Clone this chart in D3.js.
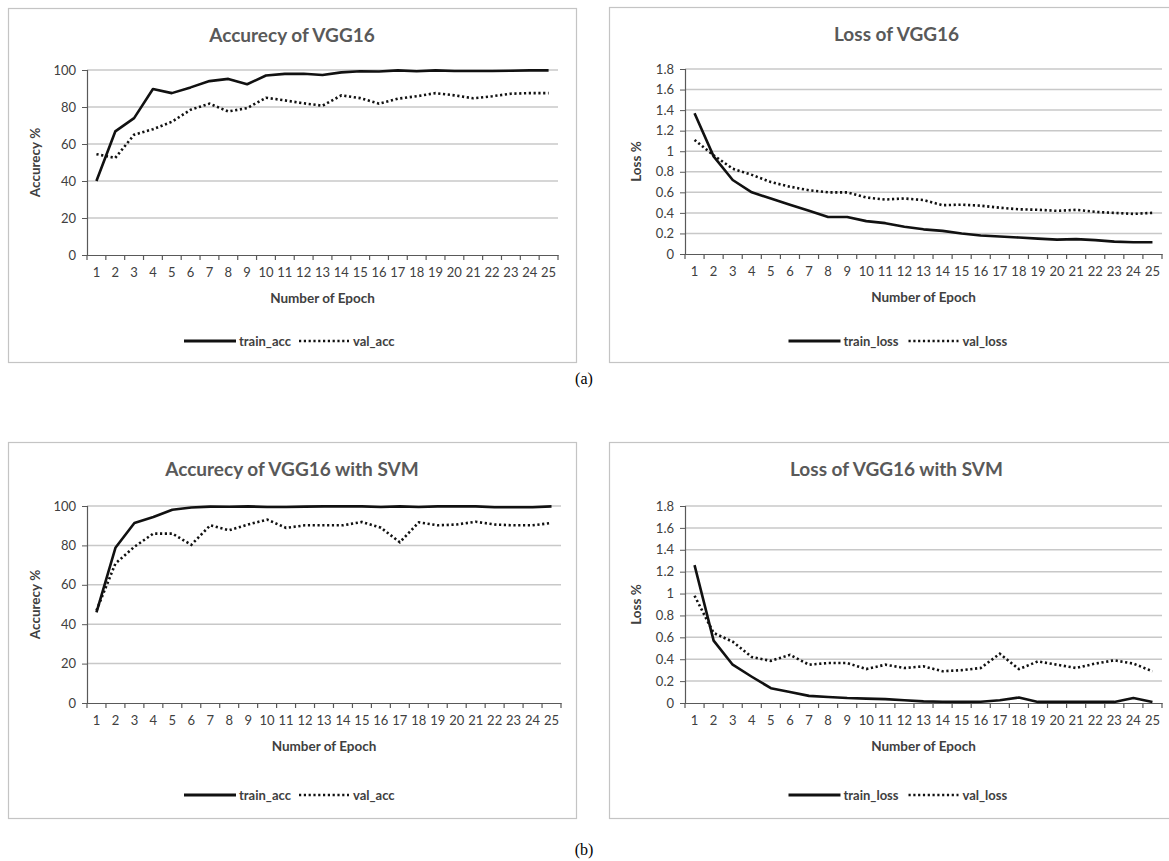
<!DOCTYPE html>
<html>
<head>
<meta charset="utf-8">
<script src="https://cdn.jsdelivr.net/npm/d3@7"></script>
<style>
  body { margin: 0; background: #fff; }
  svg { display: block; }
</style>
</head>
<body>
<svg id="chart" width="1169" height="861"></svg>
<script>
// epochs on the x axis
const epochs = d3.range(1, 26);

// VGG16 accuracy (%)
const vggTrainAcc = [40, 66.8, 74, 89.7, 87.5, 90.6, 94, 95.2, 92.3, 97, 97.9, 98, 97.3, 98.7, 99.3, 99.2, 99.8, 99.3, 99.8, 99.5, 99.5, 99.5, 99.6, 99.8, 99.8];
const vggValAcc = [54.5, 52.5, 65, 68, 72, 78.5, 81.8, 77.6, 79.4, 85, 83.6, 82, 80.7, 86.3, 84.8, 81.8, 84.5, 85.8, 87.5, 86.3, 84.7, 85.8, 87.2, 87.5, 87.5];

// VGG16 loss
const vggTrainLoss = [1.37, 0.95, 0.72, 0.6, 0.54, 0.48, 0.42, 0.36, 0.36, 0.32, 0.3, 0.265, 0.24, 0.225, 0.2, 0.18, 0.17, 0.16, 0.15, 0.14, 0.145, 0.135, 0.12, 0.115, 0.115];
const vggValLoss = [1.11, 0.96, 0.83, 0.77, 0.7, 0.655, 0.62, 0.6, 0.6, 0.55, 0.53, 0.54, 0.525, 0.475, 0.48, 0.47, 0.45, 0.435, 0.43, 0.42, 0.43, 0.41, 0.4, 0.39, 0.4];

// VGG16 + SVM accuracy (%)
const svmTrainAcc = [46, 78.8, 91.4, 94.4, 98.1, 99.2, 99.7, 99.6, 99.8, 99.5, 99.5, 99.7, 99.8, 99.8, 99.8, 99.5, 99.8, 99.5, 99.8, 99.8, 99.8, 99.4, 99.4, 99.4, 99.8];
const svmValAcc = [47, 70.8, 79.3, 86, 86, 80.3, 90.2, 87.7, 90.6, 93.1, 88.9, 90.2, 90.2, 90.2, 91.9, 89, 81.6, 91.7, 90.2, 90.6, 92, 90.6, 90.2, 90.2, 91.4];

// VGG16 + SVM loss
const svmTrainLoss = [1.26, 0.57, 0.35, 0.24, 0.135, 0.1, 0.065, 0.055, 0.045, 0.04, 0.035, 0.025, 0.015, 0.012, 0.01, 0.012, 0.025, 0.05, 0.01, 0.01, 0.01, 0.01, 0.01, 0.045, 0.01];
const svmValLoss = [0.98, 0.64, 0.56, 0.42, 0.385, 0.44, 0.35, 0.365, 0.365, 0.31, 0.35, 0.32, 0.335, 0.29, 0.3, 0.32, 0.45, 0.31, 0.38, 0.35, 0.32, 0.36, 0.39, 0.36, 0.29];

// y tick labels
const accTicks = [0, 20, 40, 60, 80, 100];
const lossTicks = [0, 0.2, 0.4, 0.6, 0.8, 1, 1.2, 1.4, 1.6, 1.8];

const FONT = "Lato, 'Open Sans', sans-serif";
const svg = d3.select('#chart');

function drawPanel(p) {
  const g = svg.append('g');

  // panel frame
  g.append('rect')
    .attr('x', p.box[0] + 0.5).attr('y', p.box[1] + 0.5)
    .attr('width', p.box[2]).attr('height', p.box[3])
    .attr('fill', '#fff').attr('stroke', '#c4c4c4').attr('stroke-width', 1.2);

  const x = d3.scaleBand().domain(epochs).range([p.left, p.right]);
  const y = d3.scaleLinear().domain([0, d3.max(p.yTicks)]).range([p.bottom, p.top]);

  // gridlines
  g.append('g').selectAll('line').data(p.yTicks.filter(d => d > 0)).enter()
    .append('line')
    .attr('x1', p.left).attr('x2', p.right)
    .attr('y1', d => y(d)).attr('y2', d => y(d))
    .attr('stroke', '#c8c8c8').attr('stroke-width', 1.5);

  // y axis
  const yAxis = g.append('g')
    .attr('transform', `translate(${p.left},0)`)
    .call(d3.axisLeft(y).tickValues(p.yTicks).tickSize(5).tickPadding(6).tickFormat(d3.format('~g')));
  yAxis.select('.domain').attr('stroke', '#595959').attr('stroke-width', 1.2);
  yAxis.selectAll('.tick line').attr('stroke', '#595959');
  yAxis.selectAll('text').attr('font-family', FONT).attr('font-size', 13).attr('fill', '#404040');

  // x axis with labels centered in bands, ticks at band boundaries
  const xAxis = g.append('g')
    .attr('transform', `translate(0,${p.bottom})`)
    .call(d3.axisBottom(x).tickSize(0).tickPadding(13));
  xAxis.select('.domain').attr('stroke', '#595959').attr('stroke-width', 1.2);
  xAxis.selectAll('text').attr('font-family', FONT).attr('font-size', 13).attr('fill', '#404040');
  const bounds = epochs.map(d => x(d)).concat([p.right]);
  xAxis.selectAll('line.bnd').data(bounds).enter()
    .append('line').attr('class', 'bnd')
    .attr('x1', d => d).attr('x2', d => d)
    .attr('y1', 0).attr('y2', 5)
    .attr('stroke', '#595959').attr('stroke-width', 1.2);

  // series
  const line = d3.line()
    .x((d, i) => x(epochs[i]) + x.bandwidth() / 2)
    .y(d => y(d));
  g.append('path').datum(p.val)
    .attr('d', line).attr('fill', 'none')
    .attr('stroke', '#111').attr('stroke-width', 2.6)
    .attr('stroke-dasharray', '2.2,2.6');
  g.append('path').datum(p.train)
    .attr('d', line).attr('fill', 'none')
    .attr('stroke', '#111').attr('stroke-width', 2.6)
    .attr('stroke-linejoin', 'round');

  // titles
  const cx = p.box[0] + p.box[2] / 2;
  g.append('text')
    .attr('x', cx).attr('y', p.box[1] + 34)
    .attr('text-anchor', 'middle')
    .attr('font-family', FONT).attr('font-size', 19).attr('font-weight', 'bold')
    .attr('fill', '#595959').text(p.title);

  g.append('text')
    .attr('x', (p.left + p.right) / 2).attr('y', p.bottom + 48)
    .attr('text-anchor', 'middle')
    .attr('font-family', FONT).attr('font-size', 13.5).attr('font-weight', 'bold')
    .attr('fill', '#404040').text('Number of Epoch');

  g.append('text')
    .attr('transform', `translate(${p.box[0] + 32},${(p.top + p.bottom) / 2}) rotate(-90)`)
    .attr('text-anchor', 'middle')
    .attr('font-family', FONT).attr('font-size', 13.5).attr('font-weight', 'bold')
    .attr('fill', '#404040').text(p.yLabel);

  // legend
  const ly = p.legendY;
  const lg = g.append('g').attr('transform', `translate(${cx - 108},${ly})`);
  lg.append('line').attr('x1', 0).attr('x2', 52).attr('y1', 0).attr('y2', 0)
    .attr('stroke', '#111').attr('stroke-width', 3);
  lg.append('text').attr('x', 55).attr('y', 4.5)
    .attr('font-family', FONT).attr('font-size', 13).attr('font-weight', 'bold')
    .attr('fill', '#404040').text(p.names[0]);
  lg.append('line').attr('x1', p.gap).attr('x2', p.gap + 50).attr('y1', 0).attr('y2', 0)
    .attr('stroke', '#111').attr('stroke-width', 2.6).attr('stroke-dasharray', '2.2,2.6');
  lg.append('text').attr('x', p.gap + 54).attr('y', 4.5)
    .attr('font-family', FONT).attr('font-size', 13).attr('font-weight', 'bold')
    .attr('fill', '#404040').text(p.names[1]);
}

drawPanel({
  box: [8, 8, 568, 354], left: 87, right: 558, top: 70, bottom: 255, legendY: 341,
  title: 'Accurecy of VGG16', yLabel: 'Accurecy %', yTicks: accTicks,
  train: vggTrainAcc, val: vggValAcc, names: ['train_acc', 'val_acc'], gap: 115
});
drawPanel({
  box: [609, 7, 575, 355], left: 685, right: 1162, top: 69, bottom: 254, legendY: 341,
  title: 'Loss of VGG16', yLabel: 'Loss %', yTicks: lossTicks,
  train: vggTrainLoss, val: vggValLoss, names: ['train_loss', 'val_loss'], gap: 120
});
drawPanel({
  box: [8, 442, 568, 376], left: 87, right: 561, top: 506, bottom: 703, legendY: 795,
  title: 'Accurecy of VGG16 with SVM', yLabel: 'Accurecy %', yTicks: accTicks,
  train: svmTrainAcc, val: svmValAcc, names: ['train_acc', 'val_acc'], gap: 115
});
drawPanel({
  box: [609, 442, 575, 376], left: 685, right: 1162, top: 506, bottom: 703, legendY: 795,
  title: 'Loss of VGG16 with SVM', yLabel: 'Loss %', yTicks: lossTicks,
  train: svmTrainLoss, val: svmValLoss, names: ['train_loss', 'val_loss'], gap: 120
});

// sub-figure captions
svg.append('text').attr('x', 584).attr('y', 384).attr('text-anchor', 'middle')
  .attr('font-family', "'Liberation Serif', 'Times New Roman', serif").attr('font-size', 16)
  .attr('fill', '#000').text('(a)');
svg.append('text').attr('x', 584).attr('y', 855).attr('text-anchor', 'middle')
  .attr('font-family', "'Liberation Serif', 'Times New Roman', serif").attr('font-size', 16)
  .attr('fill', '#000').text('(b)');
</script>
</body>
</html>
